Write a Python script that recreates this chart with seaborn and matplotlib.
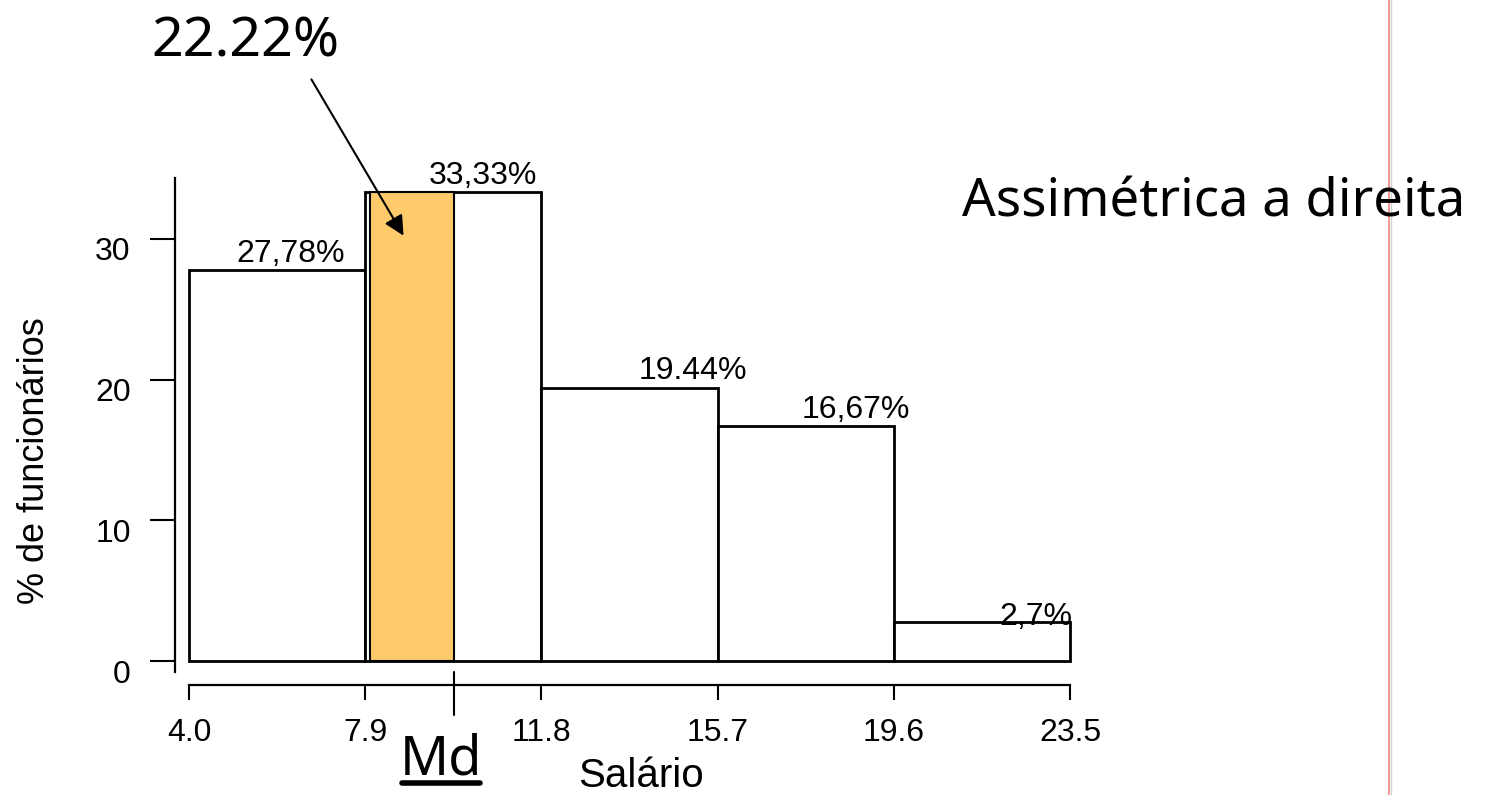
import matplotlib
matplotlib.use('Agg')
import matplotlib.pyplot as plt
import matplotlib.transforms as mtransforms
from matplotlib.lines import Line2D
import seaborn as sns

# histogram classes (salario) and share of employees in %
bin_edges = [4.0, 7.9, 11.8, 15.7, 19.6, 23.5]
percentages = [27.78, 33.33, 19.44, 16.67, 2.78]
bar_labels = ['27,78%', '33,33%', '19.44%', '16,67%', '2,7%']
y_ticks = [0, 10, 20, 30]
x_tick_labels = ['4.0', '7.9', '11.8', '15.7', '19.6', '23.5']
median_start = 8.0
median_value = 9.87
median_share = '22.22%'

sns.set_theme(style='white')
plt.rcParams['font.family'] = ['Liberation Sans', 'DejaVu Sans']
plt.rcParams['text.color'] = 'black'
plt.rcParams['axes.labelcolor'] = 'black'
plt.rcParams['xtick.color'] = 'black'
plt.rcParams['ytick.color'] = 'black'

W, H = 1492, 795
fig = plt.figure(figsize=(W / 100, H / 100), dpi=100)
fig.patch.set_facecolor('white')

# axes placed so that 4.0 -> px 189 and 23.5 -> px 1070
ax_bottom_px = 672.3
ax_top_px = 175.6
ax = fig.add_axes([189 / W, (H - ax_bottom_px) / H, 881 / W, (ax_bottom_px - ax_top_px) / H])
ax.set_facecolor('white')

mids = [(a + b) / 2 for a, b in zip(bin_edges[:-1], bin_edges[1:])]
sns.histplot(x=mids, weights=percentages, bins=bin_edges, ax=ax,
             color='white', edgecolor='black', linewidth=2, alpha=1)

# median region
ax.bar(median_start, percentages[1], width=median_value - median_start, align='edge',
       color='#fdcb6b', edgecolor='black', linewidth=1.5, zorder=3)
for p in ax.patches:
    p.set_clip_on(False)

ax.set_xlim(bin_edges[0], bin_edges[-1])
ax.set_ylim(-0.8, 34.5)

# labels above bars (shift in data units, offset in points)
label_shift = [0.3, 0.65, 1.4, 1.1, 1.2]
label_dy = [1, 1, 1, 1, -7]
for i, (m, p, lab) in enumerate(zip(mids, percentages, bar_labels)):
    ax.annotate(lab, (m + label_shift[i], p), xytext=(0, label_dy[i]),
                textcoords='offset points', ha='center', va='bottom',
                fontsize=23, color='black', annotation_clip=False, zorder=5)

# spines R-style
for s in ['top', 'right']:
    ax.spines[s].set_visible(False)
ax.spines['left'].set_position(('outward', 10))
ax.spines['bottom'].set_position(('outward', 9.1))
ax.spines['left'].set_bounds(-0.8, 34.33)
ax.spines['bottom'].set_bounds(bin_edges[0], bin_edges[-1])
for s in ['left', 'bottom']:
    ax.spines[s].set_linewidth(1.6)
    ax.spines[s].set_color('black')

ax.set_xticks(bin_edges)
ax.set_xticklabels(x_tick_labels)
ax.set_yticks(y_ticks)
ax.tick_params(axis='x', length=11, width=1.5, pad=13, labelsize=23, color='black',
               bottom=True, direction='out')
ax.tick_params(axis='y', length=18, width=1.5, pad=14, labelsize=23, color='black',
               left=True, direction='out')

ax.set_xlabel('Salário', fontsize=29)
ax.set_ylabel('% de funcionários', fontsize=26)
ax.xaxis.set_label_coords(0.513, -0.17)
ax.yaxis.set_label_coords(-0.155, 0.427)

# median tick crossing the x axis
md_trans = mtransforms.blended_transform_factory(ax.transData, ax.transAxes)
ax.add_line(Line2D([median_value, median_value], [0.0, -0.086], transform=md_trans,
                   color='black', linewidth=1.5, clip_on=False))

# shift y tick labels down a bit like the original
offset = mtransforms.ScaledTranslation(0, -10 / 100, fig.dpi_scale_trans)
for lab in ax.get_yticklabels():
    lab.set_transform(lab.get_transform() + offset)

# hand-written style annotations
hand = ['Noto Sans', 'DejaVu Sans']
fig.text(245 / W, 1 - 42 / H, median_share, fontsize=40, family=hand,
         ha='center', va='center', color='black')
ax.annotate('', xy=(8.78, 30.06), xytext=(310, H - 77), textcoords='figure pixels',
            arrowprops=dict(arrowstyle='-|>', color='black', lw=1.5, mutation_scale=30),
            annotation_clip=False)
fig.text(962 / W, 1 - 203 / H, 'Assimétrica a direita', fontsize=38, family=hand,
         ha='left', va='center', color='black')
fig.text(441 / W, 1 - 760 / H, 'Md', fontsize=39, family=hand, ha='center', va='center',
         color='black')
fig.add_artist(Line2D([402 / W, 480 / W], [1 - 783 / H, 1 - 783 / H],
                      transform=fig.transFigure, color='black', linewidth=4))

# slide border on the right
fig.add_artist(Line2D([1389 / W, 1389 / W], [0, 1], transform=fig.transFigure,
                      color='#f29a9a', linewidth=1.5))
fig.add_artist(Line2D([1391 / W, 1391 / W], [0, 1], transform=fig.transFigure,
                      color='#d4d4d4', linewidth=1))

fig.savefig('out.png', dpi=100, facecolor='white')
